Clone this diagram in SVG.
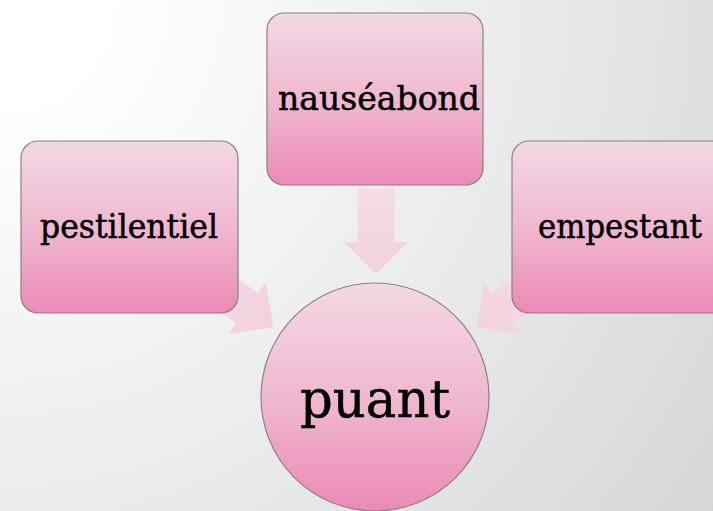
<svg xmlns="http://www.w3.org/2000/svg" width="713" height="511" viewBox="0 0 713 511">
<defs>
<radialGradient id="bg" gradientUnits="userSpaceOnUse" cx="0" cy="0" r="880">
<stop offset="0.12" stop-color="#ffffff"/>
<stop offset="0.6" stop-color="#e9eaeb"/>
<stop offset="1" stop-color="#d5d6d8"/>
</radialGradient>
<linearGradient id="pk" x1="0" y1="0" x2="0" y2="1">
<stop offset="0" stop-color="#f4d8e4"/>
<stop offset="0.5" stop-color="#efb9d0"/>
<stop offset="1" stop-color="#ec8ab5"/>
</linearGradient>
<linearGradient id="ar" x1="0" y1="0" x2="0" y2="1">
<stop offset="0" stop-color="#f4dde7"/>
<stop offset="1" stop-color="#f3d0df"/>
</linearGradient>
<path id="arrow" d="M-18.5,-86 L18.5,-86 L18.5,-32 L32,-32 L0,0 L-32,-32 L-18.5,-32 Z"/>
</defs>
<style>
.node{fill:url(#pk);stroke:#8c7f85;stroke-width:1.2}
.lbl{font-family:"DejaVu Serif","Liberation Serif",serif;fill:#000;stroke:#000;stroke-width:0.5;text-anchor:middle}
.arr{fill:url(#ar)}
</style>
<rect width="713" height="511" fill="url(#bg)"/>
<g id="connectors">
<use href="#arrow" class="arr" transform="translate(376,274)"/>
<use href="#arrow" class="arr" transform="translate(273,327) rotate(-54)"/>
<use href="#arrow" class="arr" transform="translate(477,327) rotate(54)"/>
</g>
<g id="node-nauseabond">
<rect class="node" x="267" y="13" width="216" height="172" rx="17"/>
<text class="lbl" x="379" y="110" font-size="33" textLength="202" lengthAdjust="spacingAndGlyphs">nauséabond</text>
</g>
<g id="node-pestilentiel">
<rect class="node" x="21" y="141" width="217" height="172" rx="17"/>
<text class="lbl" x="129" y="238" font-size="33" textLength="178" lengthAdjust="spacingAndGlyphs">pestilentiel</text>
</g>
<g id="node-empestant">
<rect class="node" x="512" y="141" width="217" height="172" rx="17"/>
<text class="lbl" x="620" y="238" font-size="33" textLength="164" lengthAdjust="spacingAndGlyphs">empestant</text>
</g>
<g id="node-puant">
<circle class="node" cx="375" cy="397" r="114"/>
<text class="lbl" x="375" y="417" font-size="53" textLength="150" lengthAdjust="spacingAndGlyphs">puant</text>
</g>
</svg>
